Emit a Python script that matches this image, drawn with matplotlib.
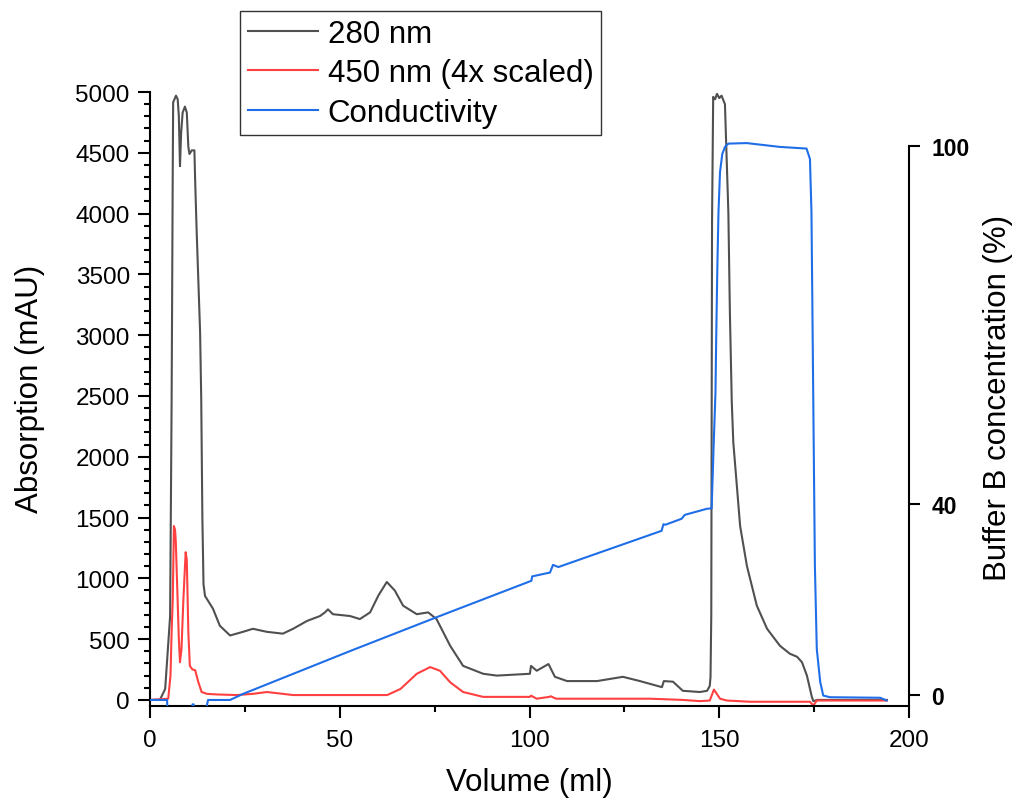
import matplotlib
matplotlib.use("Agg")
from matplotlib import pyplot as plt
from matplotlib.ticker import MultipleLocator

plt.rcParams['font.family'] = ['Liberation Sans', 'DejaVu Sans']

# 280 nm absorption (mAU)
vol_280 = [0, 2.6, 4.0, 5.3, 5.7, 6.0, 6.1, 6.85, 7.3, 7.6, 7.9, 8.2, 8.6, 9.2, 9.7,
           10.1, 10.4, 11.0, 11.7, 11.9, 12.3, 13.2, 13.5, 13.8, 14.1, 14.5, 15.0, 16.6,
           18.4, 21.1, 24.5, 27.1, 30.8, 35.0, 37.7, 41.4, 44.8, 46.1, 46.9, 48.2,
           52.7, 55.3, 58.0, 60.2, 62.4, 64.5, 66.7, 70.3, 73.3, 75.5, 79.1, 82.5,
           87.8, 91.4, 100.1, 100.4, 101.9, 105.0, 106.7, 109.9, 117.8, 124.6, 129.1,
           134.9, 135.4, 137.8, 140.4, 144.9, 146.8, 147.5, 147.7, 147.9, 148.1,
           148.4, 148.9, 149.4, 150.0, 150.6, 151.5, 152.4, 152.8, 153.3, 153.7,
           155.5, 157.3, 159.9, 162.6, 166.0, 168.6, 170.5, 171.8, 173.1, 174.4,
           174.8, 175.8, 194.2]
abs_280 = [0, 0, 90, 690, 2475, 4390, 4915, 4970, 4940, 4800, 4390, 4660, 4830, 4880,
           4830, 4550, 4490, 4520, 4520, 4270, 3850, 3025, 2475, 1500, 950, 855, 830, 750,
           610, 530, 560, 585, 560, 545, 585, 650, 690, 720, 745, 705,
           690, 665, 720, 860, 970, 900, 775, 705, 720, 665, 445, 280,
           215, 200, 215, 280, 240, 295, 190, 155, 155, 190, 155,
           105, 155, 150, 75, 65, 75, 115, 190, 700, 3930,
           4960, 4940, 4985, 4950, 4970, 4900, 4010, 3190, 2450, 2120,
           1430, 1100, 775, 585, 445, 380, 355, 310, 200, 25,
           -10, 0, 0]

# 450 nm absorption, scaled 4x (mAU)
vol_450 = [0, 4.8, 5.4, 5.7, 6.0, 6.3, 6.6, 6.8, 7.2, 7.6, 7.9, 8.3, 8.8, 9.4, 9.7,
           10.1, 10.5, 11.2, 11.9, 12.7, 13.6, 15.0, 17.6, 22.8, 27.1, 30.8, 35.0,
           37.7, 52.7, 62.5, 66.0, 70.3, 73.8, 76.4, 79.1, 82.5, 87.8, 100.1, 100.4,
           101.9, 105.2, 105.6, 107.0, 131.8, 140.4, 144.9, 147.5, 148.6, 150.2,
           152.0, 158.1, 173.9, 174.8, 175.7, 194.1]
abs_450 = [0, 10, 200, 560, 830, 1430, 1400, 1300, 900, 500, 310, 420, 830, 1215, 1150,
           560, 280, 250, 245, 150, 65, 50, 45, 40, 50, 65, 50,
           40, 40, 40, 90, 215, 270, 240, 145, 65, 25, 25, 35,
           10, 25, 30, 10, 10, 0, -10, -5, 85, 10,
           -5, -15, -15, -47, -5, -5]

# conductivity, on the right axis scale
vol_cond = [0, 4.5, 4.7, 10.9, 11.2, 11.5, 11.8, 14.0, 15.3, 21.1, 24.5, 52.7, 76.4,
            100.5, 100.7, 105.4, 106.2, 107.6, 134.8, 135.3, 135.8, 140.1, 140.9,
            146.7, 148.0, 148.5, 149.0, 149.2, 149.5, 149.8, 150.2, 150.8, 151.5,
            152.4, 157.2, 166.0, 173.0, 173.9, 174.3, 174.8, 175.2, 175.7, 176.6,
            177.4, 179.2, 192.4, 194.1]
cond = [-0.9, -0.9, -5, -5, -1.7, -1.7, -5, -5, -0.9, -0.9, 0.2, 8.0, 14.4,
        20.8, 21.6, 22.3, 23.7, 23.3, 29.9, 31.1, 31.0, 32.1, 32.8,
        33.9, 34.0, 45, 55, 65, 78, 88, 95.2, 98.5, 99.8,
        100.4, 100.5, 99.8, 99.5, 97.6, 87.9, 52.1, 23.6, 8.4, 2.4,
        -0.1, -0.4, -0.5, -1.0]

right_ticks = [0, 34.8, 100]
right_labels = ['0', '40', '100']

fig = plt.figure(figsize=(10.16, 8.03), dpi=100)
ax = fig.add_axes([150/1016, 1-707/803, (909-150)/1016, (707-93)/803])
ax2 = ax.twinx()

l1, = ax.plot(vol_280, abs_280, color='#505050', lw=1.5, label='280 nm')
l2, = ax.plot(vol_450, abs_450, color='#ff4040', lw=1.5, label='450 nm (4x scaled)')
l3, = ax2.plot(vol_cond, cond, color='#1f6ee8', lw=1.5, label='Conductivity')

ax.set_xlim(0, 200)
ax.set_ylim(-50, 5000)
ax2.set_ylim(-2.0, 109.8)

for s in ['top', 'right']:
    ax.spines[s].set_visible(False)
for s in ['top', 'left', 'bottom']:
    ax2.spines[s].set_visible(False)
for s in ['left', 'bottom']:
    ax.spines[s].set_linewidth(1.5)
ax2.spines['right'].set_linewidth(1.5)
ax2.spines['right'].set_bounds(-2.0, 100)

ax.xaxis.set_major_locator(MultipleLocator(50))
ax.xaxis.set_minor_locator(MultipleLocator(25))
ax.yaxis.set_major_locator(MultipleLocator(500))
ax.yaxis.set_minor_locator(MultipleLocator(100))
ax.tick_params(axis='both', which='major', direction='out', length=8.5, width=1.5,
               labelsize=17.5, pad=6)
ax.tick_params(axis='both', which='minor', direction='out', length=4, width=1.5)
ax.tick_params(axis='x', which='major', pad=8)

ax2.set_yticks(right_ticks)
ax2.set_yticklabels(right_labels, fontweight='bold')
ax2.tick_params(axis='y', which='major', direction='out', length=8, width=1.5,
                labelsize=16.5, pad=8)

ax.set_xlabel('Volume (ml)', fontsize=22.5)
ax.set_ylabel('Absorption (mAU)', fontsize=22.5)
ax2.set_ylabel('Buffer B concentration (%)', fontsize=22.5)
ax.xaxis.set_label_coords(0.5, -0.1)
ax.yaxis.set_label_coords(-0.138, 0.518)
ax2.yaxis.set_label_coords(1.098, 0.503)

leg = fig.legend(handles=[l1, l2, l3], loc='upper left',
                 bbox_to_anchor=(240/1016, 1-12/803), fontsize=22.5,
                 frameon=True, fancybox=False, edgecolor='black',
                 handlelength=2.25, handletextpad=0.3, labelspacing=0.3,
                 borderpad=0.25, borderaxespad=0)
leg.get_frame().set_linewidth(1.0)

fig.savefig('out.png', dpi=100)
